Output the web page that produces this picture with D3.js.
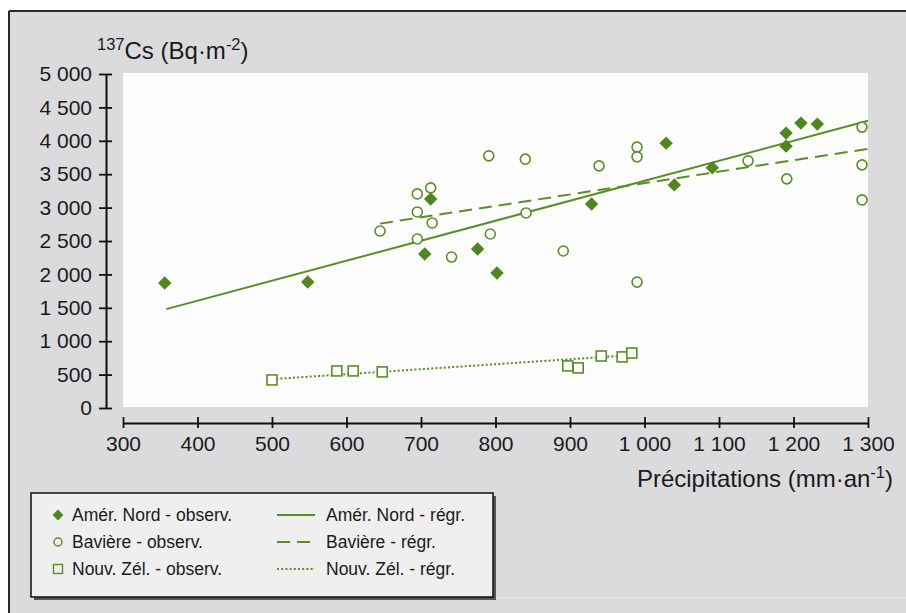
<!DOCTYPE html>
<html>
<head>
<meta charset="utf-8">
<script src="https://cdn.jsdelivr.net/npm/d3@7"></script>
<style>
  body { margin: 0; background: #fff; }
  svg { display: block; font-family: "Liberation Sans", Arial, sans-serif; }
</style>
</head>
<body>
<div id="chart"></div>
<script>
// Observations (precipitation mm/yr, 137Cs Bq/m2)
var ameriqueNord = [
    [356, 1870], [548, 1885], [705, 2305], [713, 3130], [776, 2380],
    [802, 2020], [929, 3055], [1029, 3965], [1040, 3340], [1091, 3595],
    [1190, 3920], [1190, 4115], [1210, 4265], [1232, 4250]
];
var baviere = [
    [645, 2650], [695, 2530], [695, 2935], [695, 3205], [713, 3295],
    [715, 2770], [741, 2260], [791, 3775], [793, 2605], [840, 3725],
    [841, 2920], [891, 2350], [939, 3625], [990, 3905], [990, 3760],
    [990, 1885], [1139, 3700], [1191, 3430], [1292, 4205], [1292, 3640],
    [1292, 3115]
];
var nouvZelande = [
    [500, 420], [587, 555], [609, 555], [648, 540], [897, 630],
    [911, 600], [942, 778], [970, 765], [983, 823]
];

// Regression lines, end points
var regrNord = [[358, 1480], [1300, 4300]];
var regrBaviere = [[645, 2760], [1300, 3880]];
var regrZelande = [[500, 432], [983, 792]];

var xTicks = [300, 400, 500, 600, 700, 800, 900, 1000, 1100, 1200, 1300];
var yTicks = [0, 500, 1000, 1500, 2000, 2500, 3000, 3500, 4000, 4500, 5000];
var fmt = function (v) { return v >= 1000 ? Math.floor(v / 1000) + " " + d3.format("03d")(v % 1000) : String(v); };

var legendItems = [
    { label: "Amér. Nord - observ.", kind: "diamond" },
    { label: "Bavière - observ.", kind: "circle" },
    { label: "Nouv. Zél. - observ.", kind: "square" }
];
var legendLines = [
    { label: "Amér. Nord - régr.", dash: null },
    { label: "Bavière - régr.", dash: "13,7" },
    { label: "Nouv. Zél. - régr.", dash: "2,2.2" }
];

var W = 906, H = 613;
var green = "#5a8e27";

var svg = d3.select("#chart").append("svg")
    .attr("width", W)
    .attr("height", H);

// panel background and frame
svg.append("rect").attr("x", 9).attr("y", 11).attr("width", W).attr("height", H)
    .attr("fill", "#dbdbdd");
svg.append("line").attr("x1", 9).attr("x2", W).attr("y1", 11).attr("y2", 11)
    .attr("stroke", "#2a2a2a").attr("stroke-width", 2);
svg.append("line").attr("x1", 9).attr("x2", 9).attr("y1", 11).attr("y2", H)
    .attr("stroke", "#2a2a2a").attr("stroke-width", 2);
svg.append("line").attr("x1", 31).attr("x2", W).attr("y1", 598).attr("y2", 598)
    .attr("stroke", "#f2f2f2").attr("stroke-width", 1.2);

// Define scales
var xScale = d3.scaleLinear().domain([300, 1300]).range([123, 868]);
var yScale = d3.scaleLinear().domain([0, 5000]).range([408, 74]);

// white plotting area
svg.append("rect")
    .attr("x", xScale(300)).attr("y", yScale(5000) - 1)
    .attr("width", xScale(1300) - xScale(300))
    .attr("height", yScale(0) - yScale(5000))
    .attr("fill", "#fdfdfd");

// Define axes
var yAxis = d3.axisLeft(yScale).tickValues(yTicks).tickFormat(fmt)
    .tickSizeInner(7).tickSizeOuter(0).tickPadding(8);
var xAxis = d3.axisBottom(xScale).tickValues(xTicks).tickFormat(fmt)
    .tickSizeInner(5).tickSizeOuter(0).tickPadding(10);

var gy = svg.append("g").attr("class", "y axis")
    .attr("transform", "translate(106,0)")
    .call(yAxis);
var gx = svg.append("g").attr("class", "x axis")
    .attr("transform", "translate(0,423)")
    .call(xAxis);

[gy, gx].forEach(function (g) {
    g.select(".domain").attr("stroke", "#111").attr("stroke-width", 2);
    g.selectAll(".tick line").attr("stroke", "#111").attr("stroke-width", 1.8);
    g.selectAll(".tick text").attr("fill", "#1a1a1a").style("font-size", "21px")
        .style("font-family", "'Liberation Sans', Arial, sans-serif");
});
// ticks cross the axis line
gy.selectAll(".tick line").attr("x1", 6).attr("x2", -7);
gx.selectAll(".tick line").attr("y1", -6).attr("y2", 5);
gy.selectAll(".tick text").attr("x", -14);
gx.selectAll(".tick text").attr("y", 13);

// axis titles
var yt = svg.append("text").attr("x", 97).attr("y", 59)
    .attr("fill", "#1a1a1a").style("font-size", "24px");
yt.append("tspan").attr("font-size", "16.5px").attr("dy", -9).text("137");
yt.append("tspan").attr("dy", 9).text("Cs (Bq·m");
yt.append("tspan").attr("font-size", "16.5px").attr("dy", -9).text("-2");
yt.append("tspan").attr("dy", 9).text(")");

var xt = svg.append("text").attr("x", 893).attr("y", 487)
    .attr("text-anchor", "end").attr("fill", "#1a1a1a").style("font-size", "24px");
xt.append("tspan").text("Précipitations (mm·an");
xt.append("tspan").attr("font-size", "16.5px").attr("dy", -9).text("-1");
xt.append("tspan").attr("dy", 9).text(")");

// Define lines
var line = d3.line()
    .x(function (d) { return xScale(d[0]); })
    .y(function (d) { return yScale(d[1]); });

var regs = [
    { pts: regrNord, dash: null },
    { pts: regrBaviere, dash: "13,7" },
    { pts: regrZelande, dash: "2,2.2" }
];
svg.selectAll(".regr").data(regs).enter().append("path")
    .attr("class", "regr")
    .attr("fill", "none")
    .attr("stroke", green)
    .attr("stroke-width", 2)
    .attr("stroke-dasharray", function (d) { return d.dash; })
    .attr("d", function (d) { return line(d.pts); });

// markers
var diamond = d3.symbol().type(d3.symbolDiamond2).size(115);
svg.selectAll(".nord").data(ameriqueNord).enter().append("path")
    .attr("class", "nord")
    .attr("transform", function (d) { return "translate(" + xScale(d[0]) + "," + yScale(d[1]) + ")"; })
    .attr("d", diamond)
    .attr("fill", "#4f8620");

svg.selectAll(".bav").data(baviere).enter().append("circle")
    .attr("class", "bav")
    .attr("cx", function (d) { return xScale(d[0]); })
    .attr("cy", function (d) { return yScale(d[1]); })
    .attr("r", 5)
    .attr("fill", "#fff")
    .attr("stroke", green)
    .attr("stroke-width", 1.6);

svg.selectAll(".nz").data(nouvZelande).enter().append("rect")
    .attr("class", "nz")
    .attr("x", function (d) { return xScale(d[0]) - 5; })
    .attr("y", function (d) { return yScale(d[1]) - 5; })
    .attr("width", 10).attr("height", 10)
    .attr("fill", "#fff")
    .attr("stroke", green)
    .attr("stroke-width", 1.6);

// legend
var lg = svg.append("g").attr("transform", "translate(31,493)");
lg.append("rect").attr("x", 3).attr("y", 3).attr("width", 462).attr("height", 104)
    .attr("fill", "#555");
lg.append("rect").attr("x", 0).attr("y", 0).attr("width", 462).attr("height", 104)
    .attr("fill", "#efeff0").attr("stroke", "#111").attr("stroke-width", 1.5);

var rowY = [22, 49, 76];
legendItems.forEach(function (it, i) {
    var g = lg.append("g").attr("transform", "translate(27," + rowY[i] + ")");
    if (it.kind === "diamond") {
        g.append("path").attr("d", d3.symbol().type(d3.symbolDiamond2).size(75)).attr("fill", "#4f8620");
    } else if (it.kind === "circle") {
        g.append("circle").attr("r", 4).attr("fill", "none").attr("stroke", green).attr("stroke-width", 1.4);
    } else {
        g.append("rect").attr("x", -4.5).attr("y", -4.5).attr("width", 9).attr("height", 9)
            .attr("fill", "none").attr("stroke", green).attr("stroke-width", 1.4);
    }
    lg.append("text").attr("x", 41).attr("y", rowY[i] + 6)
        .attr("fill", "#1a1a1a").style("font-size", "17.5px").text(it.label);
});
legendLines.forEach(function (it, i) {
    lg.append("line").attr("x1", 246).attr("x2", 284)
        .attr("y1", rowY[i]).attr("y2", rowY[i])
        .attr("stroke", green).attr("stroke-width", 2)
        .attr("stroke-dasharray", it.dash);
    lg.append("text").attr("x", 295).attr("y", rowY[i] + 6)
        .attr("fill", "#1a1a1a").style("font-size", "17.5px").text(it.label);
});
</script>
</body>
</html>
